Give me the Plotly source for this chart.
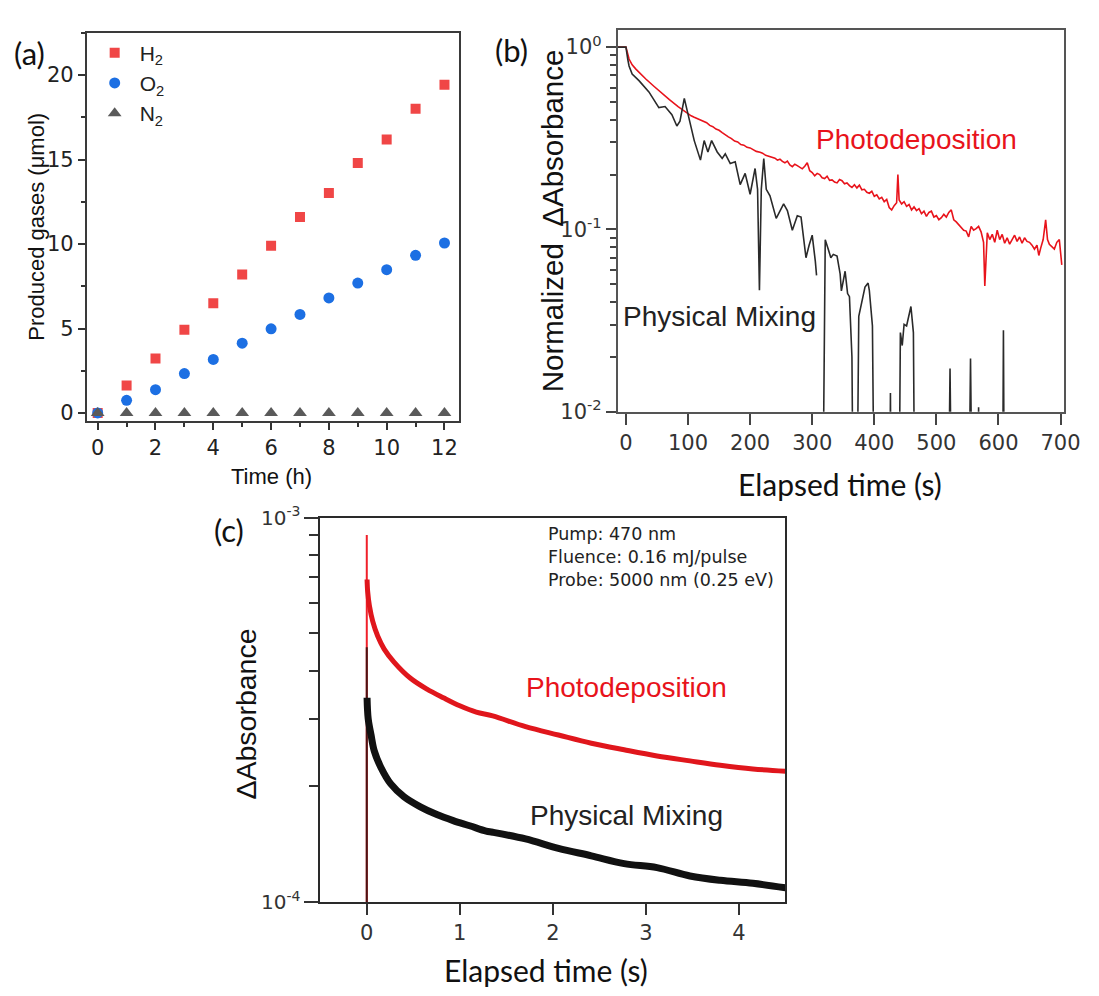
import plotly.graph_objects as go

W, H = 1099, 996

# ---------------- data (a) ----------------
time_h = [0, 1, 2, 3, 4, 5, 6, 7, 8, 9, 10, 11, 12]
h2_umol = [0.0, 1.63, 3.23, 4.92, 6.5, 8.19, 9.9, 11.6, 13.02, 14.8, 16.19, 18.0, 19.42]
o2_umol = [0.0, 0.75, 1.38, 2.33, 3.17, 4.13, 4.98, 5.83, 6.81, 7.69, 8.48, 9.33, 10.06]
n2_umol = [0, 0, 0, 0, 0, 0, 0, 0, 0, 0, 0, 0, 0]

# ---------------- data (b) ----------------
pd_b_t = [-13, 0, 5, 10, 16, 24, 32, 45, 58, 70,
          84, 96, 100, 105, 110, 115, 120, 125, 130, 135,
          140, 145, 150, 155, 160, 165, 170, 175, 180, 185,
          190, 195, 200, 205, 210, 216, 220, 225, 230, 235,
          240, 244, 248, 252, 256, 260, 264, 268, 272, 276,
          280, 284, 288, 292, 296, 300, 304, 308, 312, 316,
          320, 324, 328, 332, 336, 340, 344, 348, 352, 356,
          360, 364, 368, 372, 376, 380, 384, 388, 392, 396,
          400, 404, 408, 412, 416, 420, 424, 428, 432, 436,
          438, 440, 444, 448, 452, 456, 460, 464, 468, 472,
          476, 480, 484, 488, 492, 496, 500, 504, 508, 512,
          516, 520, 524, 528, 532, 536, 540, 544, 548, 552,
          556, 560, 564, 568, 572, 576, 578, 580, 582, 586,
          590, 594, 598, 602, 606, 610, 614, 618, 622, 626,
          630, 634, 638, 642, 646, 650, 654, 658, 662, 665,
          668, 672, 676, 679, 682, 686, 690, 694, 698, 702]
pd_b_v = [1.0, 1.0, 0.86, 0.80, 0.757, 0.71, 0.668, 0.61, 0.556, 0.515,
          0.472, 0.44, 0.43, 0.42, 0.412, 0.405, 0.395, 0.39, 0.385, 0.372,
          0.366, 0.355, 0.35, 0.34, 0.33, 0.322, 0.315, 0.305, 0.302, 0.292,
          0.29, 0.282, 0.28, 0.273, 0.268, 0.265, 0.262, 0.255, 0.252, 0.248,
          0.246, 0.24, 0.243, 0.236, 0.232, 0.237, 0.226, 0.221, 0.228, 0.224,
          0.219, 0.215, 0.222, 0.232, 0.21, 0.205, 0.197, 0.203, 0.20, 0.192,
          0.19, 0.196, 0.186, 0.187, 0.182, 0.18, 0.188, 0.185, 0.178, 0.18,
          0.174, 0.17, 0.176, 0.169, 0.175, 0.165, 0.166, 0.16, 0.158, 0.162,
          0.152, 0.155, 0.147, 0.15, 0.142, 0.146, 0.132, 0.128, 0.135, 0.14,
          0.20, 0.145, 0.138, 0.142, 0.134, 0.137, 0.128, 0.133, 0.127, 0.13,
          0.122, 0.126, 0.118, 0.124, 0.126, 0.117, 0.119, 0.113, 0.116, 0.121,
          0.117, 0.124, 0.128, 0.113, 0.11, 0.106, 0.103, 0.099, 0.098, 0.091,
          0.104, 0.099, 0.101, 0.104, 0.097, 0.085, 0.049, 0.072, 0.096, 0.088,
          0.094, 0.085, 0.099, 0.088, 0.094, 0.084, 0.09, 0.083, 0.088, 0.093,
          0.086, 0.091, 0.084, 0.09, 0.086, 0.085, 0.082, 0.078, 0.082, 0.072,
          0.079, 0.088, 0.113, 0.088, 0.083, 0.08, 0.078, 0.085, 0.088, 0.064]

pm_b_t = [-13, 0, 3, 5, 10, 21, 37, 53, 63, 67, 74, 82, 87, 94, 101, 110, 120, 126, 132, 138,
          147, 155, 160, 168, 176, 184, 192, 200, 208, 212, 215, 218, 222, 226, 232, 242, 254, 260,
          268, 276, 282, 290, 295, 300, 305, 307, 309, 316, 321, 326, 330, 334, 340, 345, 347, 353,
          357, 360, 364, 367, 371, 375, 382, 385, 390, 392, 397, 401, 412, 424, 426, 428, 434, 439,
          442, 445, 448, 452, 455, 459, 463, 466, 490, 518, 522, 526, 540, 551, 555, 559, 564, 566,
          568, 570, 590, 606, 608, 610, 640]
pm_b_v = [1.0, 1.0, 0.855, 0.788, 0.711, 0.655, 0.568, 0.466, 0.472, 0.453, 0.426, 0.369, 0.392, 0.523, 0.409, 0.307, 0.240, 0.307, 0.266, 0.307,
          0.266, 0.245, 0.260, 0.230, 0.235, 0.176, 0.203, 0.156, 0.216, 0.166, 0.0464, 0.166, 0.245, 0.166, 0.153, 0.115, 0.138, 0.127,
          0.099, 0.119, 0.117, 0.070, 0.082, 0.093, 0.067, 0.056, None, 0.001, 0.0877, 0.0776, 0.070, 0.073, 0.0714, 0.057, 0.046, 0.059,
          0.0445, 0.0428, 0.02, 0.001, 0.001, 0.0334, 0.0445, 0.0483, 0.0508, 0.0464, 0.0296, 0.001, None, 0.001, 0.0127, 0.001, None, 0.001,
          0.0272, 0.0231, 0.0302, 0.0296, 0.0334, 0.0378, 0.0272, 0.001, None, 0.001, 0.0173, 0.001, None, 0.001, 0.0196, 0.001, None, 0.001,
          0.0106, 0.001, None, 0.001, 0.028, 0.001, None]

# ---------------- data (c) ----------------
pd_c_spike_t = [0, 0]
pd_c_spike_v = [1e-5, 9.0e-4]
pd_c_t = [0.003, 0.01, 0.028, 0.064, 0.117, 0.187, 0.293, 0.47, 0.647, 0.823, 1.0, 1.177, 1.354,
          1.707, 2.06, 2.414, 2.767, 3.12, 3.474, 3.8, 4.15, 4.5]
pd_c_v = [6.9e-4, 6.4e-4, 5.9e-4, 5.37e-4, 4.92e-4, 4.55e-4, 4.21e-4, 3.82e-4, 3.58e-4, 3.40e-4, 3.24e-4, 3.12e-4, 3.05e-4,
          2.86e-4, 2.72e-4, 2.59e-4, 2.49e-4, 2.40e-4, 2.33e-4, 2.27e-4, 2.22e-4, 2.19e-4]

pm_c_spike_t = [0, 0]
pm_c_spike_v = [1e-5, 4.6e-4]
pm_c_t = [0.003, 0.015, 0.046, 0.081, 0.152, 0.258, 0.40, 0.576, 0.753, 0.929, 1.106, 1.283, 1.354,
          1.707, 2.06, 2.414, 2.767, 3.12, 3.474, 3.8, 4.15, 4.5]
pm_c_v = [3.4e-4, 3.0e-4, 2.72e-4, 2.47e-4, 2.24e-4, 2.03e-4, 1.88e-4, 1.77e-4, 1.69e-4, 1.63e-4, 1.58e-4, 1.53e-4, 1.52e-4,
          1.46e-4, 1.38e-4, 1.32e-4, 1.26e-4, 1.23e-4, 1.17e-4, 1.14e-4, 1.12e-4, 1.09e-4]

# tick labels
b_major = [1, 0.1, 0.01]
b_major_text = ["10<sup>0</sup>", "10<sup>-1</sup>", "10<sup>-2</sup>"]
c_major = [1e-3, 1e-4]
c_major_text = ["10<sup>-3</sup>", "10<sup>-4</sup>"]

conditions = ["Pump: 470 nm", "Fluence: 0.16 mJ/pulse", "Probe: 5000 nm (0.25 eV)"]

# ---------------- figure ----------------
ARIAL = "Liberation Sans, Arial, sans-serif"
TICK = "DejaVu Sans, sans-serif"
CALI = "Lato, Open Sans, sans-serif"

RED_A, BLUE_A, GRAY_A = "#f04646", "#1c6fe3", "#5a5a5a"
RED_L, BLACK_L = "#e8131b", "#2a2a2a"

fig = go.Figure()

# (a)
fig.add_trace(go.Scatter(x=time_h, y=h2_umol, mode="markers", name="H<sub>2</sub>",
                         marker=dict(symbol="square", size=10, color=RED_A),
                         legendgroup="h2", xaxis="x", yaxis="y"))
fig.add_trace(go.Scatter(x=time_h, y=o2_umol, mode="markers", name="O<sub>2</sub>",
                         marker=dict(symbol="circle", size=11, color=BLUE_A),
                         legendgroup="o2", xaxis="x", yaxis="y"))
fig.add_trace(go.Scatter(x=time_h, y=n2_umol, mode="markers", name="N<sub>2</sub>",
                         marker=dict(symbol="triangle-up", size=12, color=GRAY_A),
                         legendgroup="n2", xaxis="x", yaxis="y"))

# (b)
fig.add_trace(go.Scatter(x=pd_b_t, y=pd_b_v, mode="lines", line=dict(color=RED_L, width=1.6),
                         showlegend=False, xaxis="x2", yaxis="y2"))
fig.add_trace(go.Scatter(x=pm_b_t, y=pm_b_v, mode="lines", line=dict(color=BLACK_L, width=1.6),
                         showlegend=False, xaxis="x2", yaxis="y2", connectgaps=False))

# (c)
fig.add_trace(go.Scatter(x=pd_c_spike_t, y=pd_c_spike_v, mode="lines", line=dict(color="#f0202a", width=2),
                         showlegend=False, xaxis="x3", yaxis="y3"))
fig.add_trace(go.Scatter(x=pd_c_t, y=pd_c_v, mode="lines", line=dict(color="#e0161c", width=5, shape="spline"),
                         showlegend=False, xaxis="x3", yaxis="y3"))
fig.add_trace(go.Scatter(x=pm_c_spike_t, y=pm_c_spike_v, mode="lines", line=dict(color="#4a1414", width=2),
                         showlegend=False, xaxis="x3", yaxis="y3"))
fig.add_trace(go.Scatter(x=pm_c_t, y=pm_c_v, mode="lines", line=dict(color="#111111", width=7, shape="spline"),
                         showlegend=False, xaxis="x3", yaxis="y3"))


def dom_x(a, b):
    return [a / W, b / W]


def dom_y(top, bottom):
    return [1 - bottom / H, 1 - top / H]


def minor_log(lo, hi):
    vals = []
    for d in range(lo, hi):
        for m in range(2, 10):
            vals.append(m * 10 ** d)
    return vals


common = dict(showgrid=False, zeroline=False, showline=True, mirror=True, ticks="outside")

fig.update_layout(
    width=W, height=H, margin=dict(l=0, r=0, t=0, b=0),
    paper_bgcolor="white", plot_bgcolor="white",
    showlegend=True,
    legend=dict(x=91 / W, y=1 - 19 / H, xanchor="left", yanchor="top",
                font=dict(family=ARIAL, size=21, color="#222"),
                bgcolor="rgba(0,0,0,0)", tracegroupgap=0, itemwidth=40),
    # (a)
    xaxis=dict(domain=dom_x(88, 466), range=[-0.38, 12.51], tickvals=[0, 2, 4, 6, 8, 10, 12],
               ticklen=7, tickwidth=1.5, tickcolor="#333", linecolor="#3a3a3a", linewidth=1.6,
               minor=dict(tickvals=[1, 3, 5, 7, 9, 11], ticklen=4, ticks="outside", tickcolor="#333"),
               tickfont=dict(family=TICK, size=21, color="#222"), anchor="y", **common),
    yaxis=dict(domain=dom_y(19, 418), range=[-0.48, 22.52], tickvals=[0, 5, 10, 15, 20],
               ticklen=7, tickwidth=1.5, tickcolor="#333", linecolor="#3a3a3a", linewidth=1.6,
               minor=dict(tickvals=[2.5, 7.5, 12.5, 17.5, 22.5], ticklen=4, ticks="outside", tickcolor="#333"),
               tickfont=dict(family=TICK, size=21, color="#222"), anchor="x", **common),
    # (b)
    xaxis2=dict(domain=dom_x(627, 1080), range=[-13, 706], tickvals=[0, 100, 200, 300, 400, 500, 600, 700],
                ticklen=11, tickwidth=1.8, tickcolor="#444", linecolor="#555", linewidth=2,
                tickfont=dict(family=TICK, size=21, color="#333"), anchor="y2", **common),
    yaxis2=dict(domain=dom_y(16, 408.5), type="log", range=[-2, 0.096],
                tickvals=b_major, ticktext=b_major_text,
                ticklen=10, tickwidth=1.8, tickcolor="#444", linecolor="#555", linewidth=2,
                minor=dict(tickvals=minor_log(-2, 0), ticklen=6, ticks="outside", tickcolor="#444", tickwidth=1.5),
                tickfont=dict(family=TICK, size=21, color="#333"), anchor="x2", **common),
    # (c)
    xaxis3=dict(domain=dom_x(325, 797), range=[-0.5, 4.5], tickvals=[0, 1, 2, 3, 4],
                ticklen=11, tickwidth=1.5, tickcolor="#333", linecolor="#2a2a2a", linewidth=1.6,
                tickfont=dict(family=TICK, size=21, color="#333"), anchor="y3", **common),
    yaxis3=dict(domain=dom_y(517, 912), type="log", range=[-4, -3],
                tickvals=c_major, ticktext=c_major_text,
                ticklen=14, tickwidth=1.5, tickcolor="#333", linecolor="#2a2a2a", linewidth=1.6,
                minor=dict(tickvals=minor_log(-4, -3), ticklen=9, ticks="outside", tickcolor="#333", tickwidth=1.5),
                tickfont=dict(family=TICK, size=20, color="#333"), anchor="x3", **common),
)


def note(text, x, y, size, family, color="#111", angle=0, xanchor="center", yanchor="middle", align="center"):
    fig.add_annotation(text=text, x=x / W, y=1 - y / H, xref="paper", yref="paper",
                       showarrow=False, textangle=angle, xanchor=xanchor, yanchor=yanchor, align=align,
                       font=dict(family=family, size=size, color=color))


# panel letters
note("(a)", 30, 40, 31, CALI)
note("(b)", 519, 37, 31, CALI)
note("(c)", 232, 530, 31, CALI)

# axis titles
note("Produced gases (μmol)", 37, 218, 22, ARIAL, angle=-90)
note("Time (h)", 276, 475, 22, ARIAL)
note("Normalized\u00a0\u00a0ΔAbsorbance", 561, 212, 29.5, ARIAL, angle=-90)
note("Elapsed time (s)", 852, 483, 30, CALI)
note("ΔAbsorbance", 250, 719, 28.5, ARIAL, angle=-90)
note("Elapsed time (s)", 554, 982, 30, CALI)

# in-plot labels
note("Photodeposition", 930, 129, 28, ARIAL, color=RED_L)
note("Physical Mixing", 730, 311, 28, ARIAL, color="#222")
note("Photodeposition", 636, 692, 28, ARIAL, color=RED_L)
note("Physical Mixing", 636, 823, 28, ARIAL, color="#222")

# measurement conditions (one block)
note("<br>".join(conditions), 554, 558, 17.5, TICK, color="#222", xanchor="left", align="left")

fig.write_html("out.html")
